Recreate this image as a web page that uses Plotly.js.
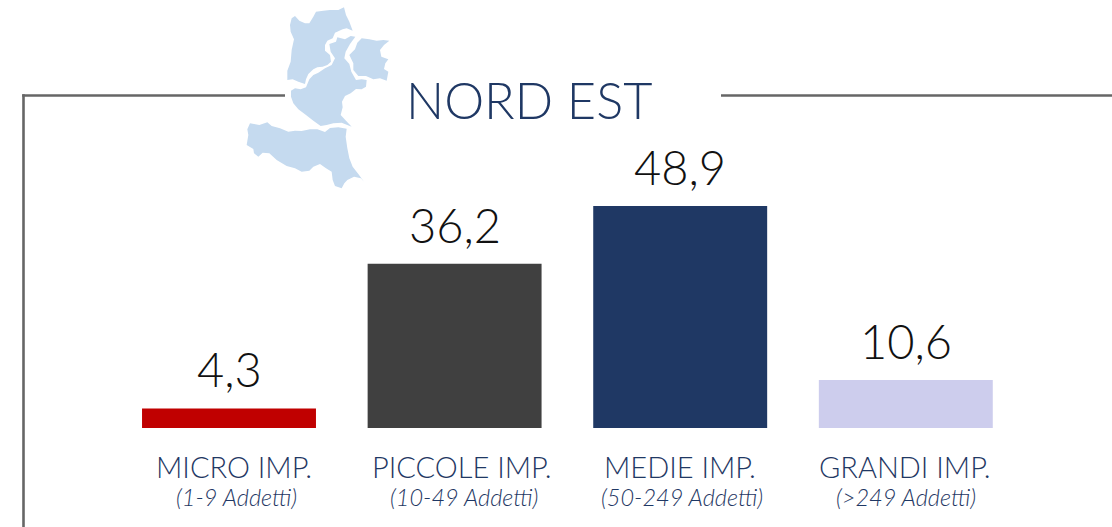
<!DOCTYPE html>
<html>
<head>
<meta charset="utf-8">
<script src="https://cdn.plot.ly/plotly-3.0.1.min.js"></script>
<style>html,body{margin:0;padding:0;background:#fff;overflow:hidden}</style>
</head>
<body>
<div id="chart" style="width:1112px;height:527px"></div>
<script>
const categories = ["MICRO IMP.", "PICCOLE IMP.", "MEDIE IMP.", "GRANDI IMP."];
const subLabels = ["(1-9 Addetti)", "(10-49 Addetti)", "(50-249 Addetti)", "(>249 Addetti)"];
const values = [4.3, 36.2, 48.9, 10.6];
const valueLabels = ["4,3", "36,2", "48,9", "10,6"];
const barColors = ["#C00000", "#404040", "#1F3864", "#CDCDED"];
const labelShifts = [5, 7, 0, -1];
const subShifts = [7, 9, 2, 0];
const chartTitle = "NORD EST";

const W = 1112, H = 527;
const FONT = "Lato, 'Open Sans', sans-serif";
const NAVY = "#1F3864";
const px = x => x / W;
const py = y => 1 - y / H;

// map silhouette, outlined in zoomed-crop coordinates (3x, offset 230,0)
const regionA = [[180,75],[185,55],[195,48],[208,62],[225,70],[238,70],[250,50],[258,35],[280,32],[300,30],[325,30],[342,22],[348,45],[358,65],[368,92],[350,85],[338,88],[328,92],[315,98],[308,115],[292,122],[285,135],[285,152],[300,165],[303,185],[292,195],[278,200],[262,202],[250,208],[235,222],[228,238],[225,252],[205,245],[188,238],[172,240],[172,212],[182,185],[185,150],[192,118],[182,95]];
const regionB = [[183,272],[195,265],[212,268],[228,262],[238,238],[250,225],[265,218],[285,205],[305,195],[315,175],[302,155],[298,132],[318,125],[322,112],[345,118],[362,108],[376,110],[360,132],[347,155],[343,175],[358,192],[364,215],[378,240],[395,238],[410,240],[408,260],[395,268],[378,267],[362,280],[345,288],[336,305],[338,322],[332,345],[348,362],[365,380],[335,368],[310,370],[290,375],[272,378],[250,362],[228,345],[205,328],[190,310],[183,290]];
const regionC = [[395,115],[418,118],[440,122],[460,120],[478,122],[462,135],[450,150],[454,170],[475,178],[466,190],[462,207],[475,215],[470,242],[450,235],[430,238],[408,228],[385,228],[370,210],[370,190],[358,165],[375,148],[382,128]];
const regionD = [[60,370],[72,372],[88,375],[112,367],[125,378],[150,385],[175,395],[195,392],[215,393],[240,388],[262,388],[285,396],[300,384],[325,382],[350,386],[347,410],[352,445],[358,475],[368,500],[385,522],[402,545],[393,535],[372,530],[352,540],[343,550],[335,565],[315,558],[308,540],[305,515],[288,505],[270,492],[250,500],[238,512],[215,515],[195,505],[170,498],[140,480],[118,460],[98,458],[85,470],[72,460],[70,447],[50,435],[55,405],[52,388]];

const toPath = pts => pts.map((p, i) => (i ? "L" : "M") + px(230 + p[0] / 3).toFixed(5) + "," + py(p[1] / 3).toFixed(5)).join(" ") + " Z";
const mapShapes = [regionA, regionB, regionC, regionD].map(r => ({
  type: "path", xref: "paper", yref: "paper", path: toPath(r),
  fillcolor: "#C5DAEF", line: {width: 0}, layer: "below"
}));

const frameLine = {color: "#666666", width: 2.6};
const frameShapes = [
  [22.2, 95.5, 285, 95.5], [721, 95.5, 1112, 95.5], [23.5, 94.2, 23.5, 527]
].map(s => ({type: "line", xref: "paper", yref: "paper",
  x0: px(s[0]), y0: py(s[1]), x1: px(s[2]), y1: py(s[3]), line: frameLine, layer: "below"}));

const valueAnnotations = categories.map((c, i) => ({
  x: c, xref: "x", y: values[i], yref: "y", yshift: 9,
  text: valueLabels[i], showarrow: false, xanchor: "center", yanchor: "bottom",
  font: {family: FONT, size: 47, color: "#111111", weight: 300}
}));
const catAnnotations = categories.map((c, i) => ({
  x: c, xref: "x", y: py(466), yref: "paper", xshift: labelShifts[i],
  text: c, showarrow: false, xanchor: "center", yanchor: "middle",
  font: {family: FONT, size: 29, color: NAVY, weight: 300}
}));
const subAnnotations = subLabels.map((c, i) => ({
  x: categories[i], xref: "x", y: py(497), yref: "paper", xshift: subShifts[i],
  text: "<i>" + c + "</i>", showarrow: false, xanchor: "center", yanchor: "middle",
  font: {family: FONT, size: 23.5, color: NAVY, weight: 300}
}));

Plotly.newPlot("chart", [{
  type: "bar", x: categories, y: values,
  marker: {color: barColors, line: {width: 0}},
  hoverinfo: "skip"
}], {
  width: W, height: H, showlegend: false, bargap: 0.229,
  paper_bgcolor: "#fff", plot_bgcolor: "rgba(0,0,0,0)",
  margin: {l: 0, r: 0, t: 0, b: 0, pad: 0},
  xaxis: {type: "category", categoryorder: "array", categoryarray: categories, range: [-0.5, 3.5], domain: [116.2 / W, 1018.6 / W], showticklabels: false, showgrid: false, zeroline: false, showline: false, ticks: ""},
  yaxis: {range: [0, 60], domain: [99 / H, (H - 155.6) / H], visible: false, showgrid: false, zeroline: false},
  shapes: mapShapes.concat(frameShapes),
  annotations: [{
    x: px(529), y: py(99), xref: "paper", yref: "paper", text: chartTitle, showarrow: false,
    xanchor: "center", yanchor: "middle",
    font: {family: FONT, size: 50.5, color: NAVY, weight: 300}
  }].concat(valueAnnotations, catAnnotations, subAnnotations)
}, {staticPlot: true, displayModeBar: false});
</script>
</body>
</html>
